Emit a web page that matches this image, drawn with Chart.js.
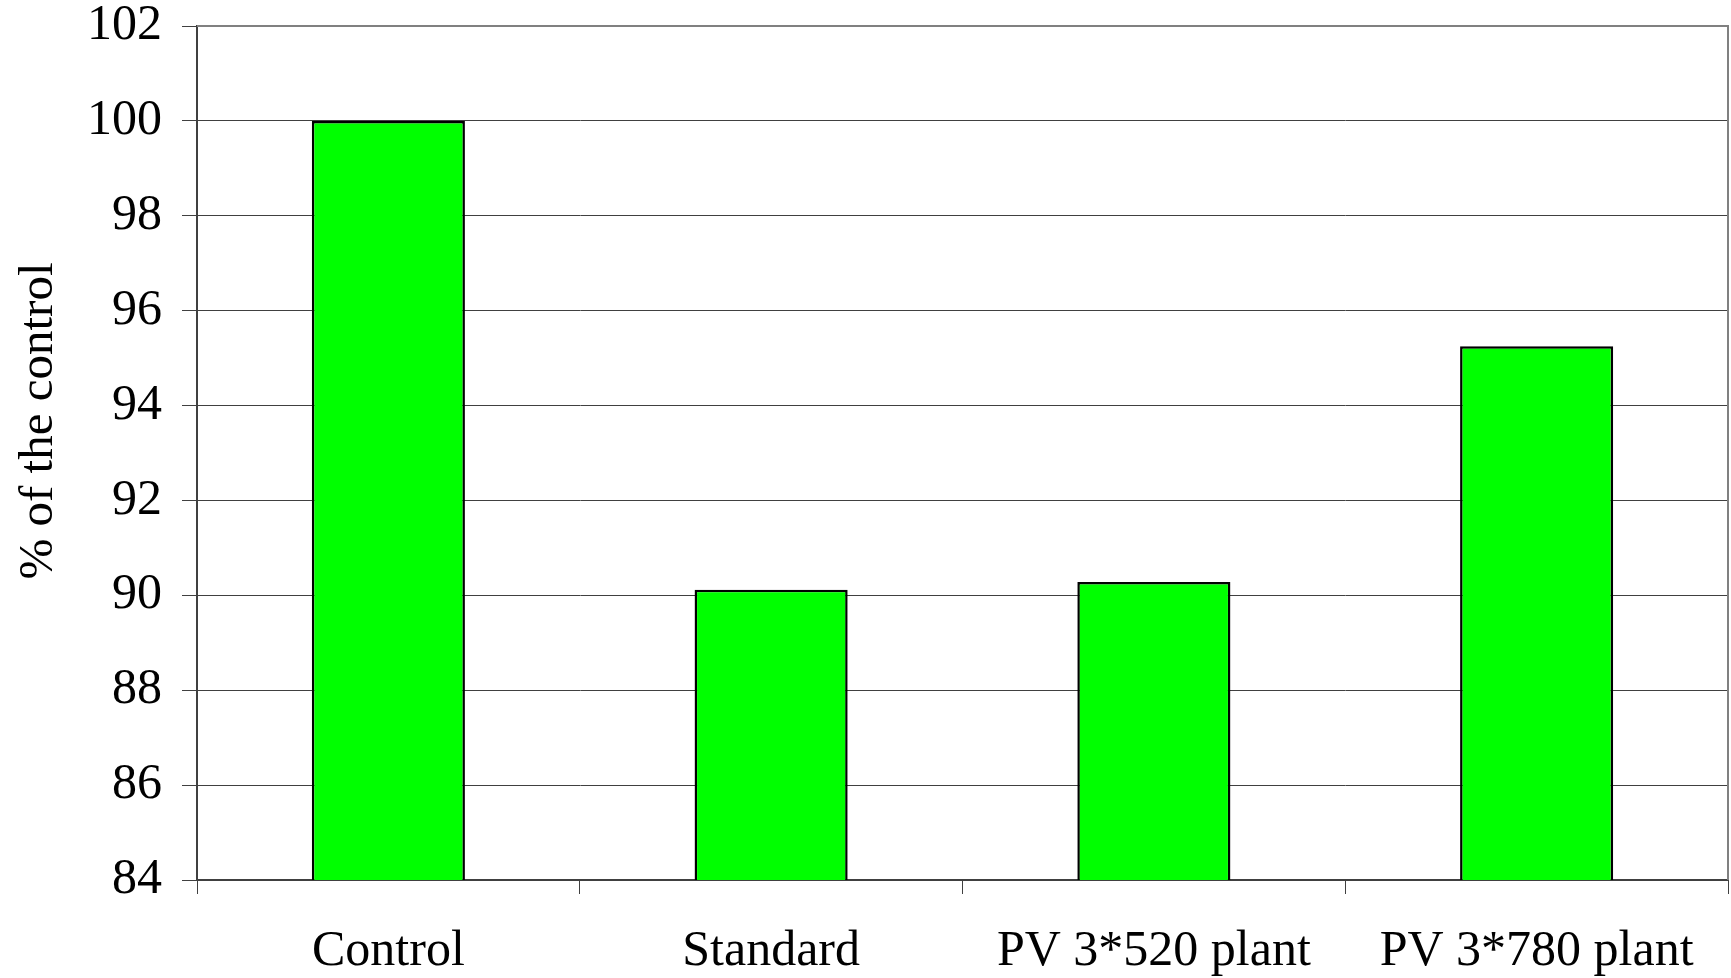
<!DOCTYPE html>
<html>
<head>
<meta charset="utf-8">
<script src="https://cdn.jsdelivr.net/npm/chart.js@4/dist/chart.umd.min.js"></script>
<style>
  html, body { margin: 0; padding: 0; background: #fff; }
  #wrap { width: 1731px; height: 978px; }
</style>
</head>
<body>
<div id="wrap"><canvas id="barChart" width="1731" height="978"></canvas></div>
<script>
const categories = ["Control", "Standard", "PV 3*520 plant", "PV 3*780 plant"];
const percentOfControl = [100, 90.12, 90.28, 95.25];
const yTicks = [84, 86, 88, 90, 92, 94, 96, 98, 100, 102];
const yTitle = "% of the control";

const serif = "'Liberation Serif', 'Times New Roman', serif";
const font = { family: serif, size: 50 };

// frame on top/right of the plot area + the y axis title
const frame = {
    id: "frame",
    afterDatasetsDraw(chart) {
        const a = chart.chartArea;
        const ctx = chart.ctx;
        ctx.save();
        ctx.strokeStyle = "#808080";
        ctx.lineWidth = 2;
        ctx.beginPath();
        ctx.moveTo(a.left, a.top);
        ctx.lineTo(a.right, a.top);
        ctx.lineTo(a.right, a.bottom);
        ctx.stroke();
        ctx.restore();
    },
    afterDraw(chart) {
        const ctx = chart.ctx;
        ctx.save();
        ctx.translate(39, 421);
        ctx.rotate(-Math.PI / 2);
        ctx.font = "49px " + serif;
        ctx.fillStyle = "#000";
        ctx.textAlign = "center";
        ctx.textBaseline = "middle";
        ctx.fillText(yTitle, 0, 0);
        ctx.restore();
    }
};

new Chart(document.getElementById("barChart").getContext("2d"), {
    type: "bar",
    data: {
        labels: categories,
        datasets: [{
            data: percentOfControl,
            backgroundColor: "#00ff00",
            borderColor: "#000000",
            borderWidth: 2.5,
            borderSkipped: false,
            barPercentage: 0.4,
            categoryPercentage: 1
        }]
    },
    options: {
        responsive: false,
        animation: false,
        layout: { padding: { top: 26, right: 3, left: 0, bottom: 0 } },
        plugins: { legend: { display: false }, tooltip: { enabled: false } },
        scales: {
            x: {
                offset: true,
                grid: { drawOnChartArea: false, color: "#404040", tickLength: 14, offset: true },
                border: { color: "#404040", width: 2 },
                ticks: { color: "#000", font: font, padding: 28, maxRotation: 0 },
                afterFit(scale) {
                    scale.height = 98;
                    scale.paddingLeft = 0;
                    scale.paddingRight = 0;
                }
            },
            y: {
                min: 84,
                max: 102,
                afterBuildTicks(scale) { scale.ticks = yTicks.map(v => ({ value: v })); },
                grid: { color: "#404040", lineWidth: 1, tickLength: 15 },
                border: { color: "#404040", width: 2 },
                ticks: { color: "#000", font: font, padding: 20 },
                afterFit(scale) {
                    scale.width = 197;
                    scale.paddingTop = 0;
                    scale.paddingBottom = 0;
                }
            }
        }
    },
    plugins: [frame]
});
</script>
</body>
</html>
